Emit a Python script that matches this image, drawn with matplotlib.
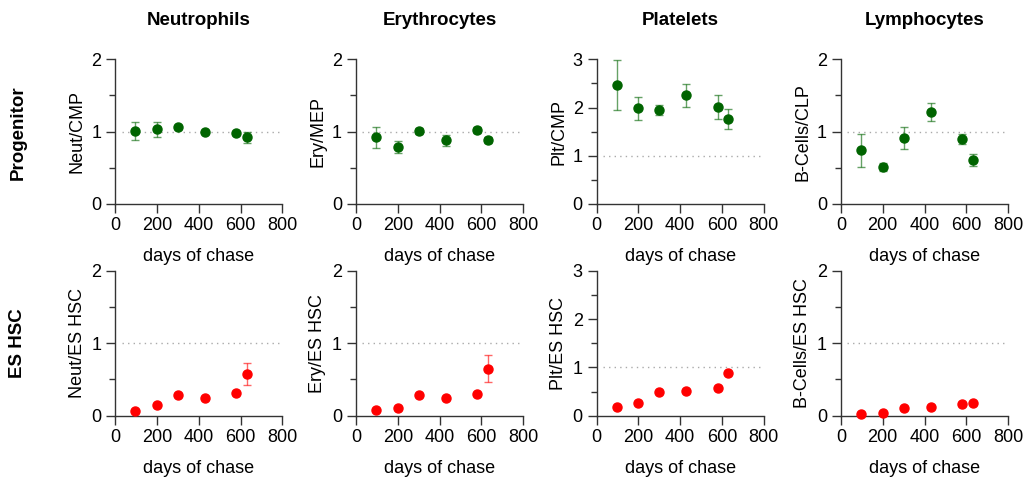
import matplotlib
matplotlib.use('Agg')
from matplotlib import pyplot as plt
from matplotlib.ticker import MultipleLocator

plt.rcParams['font.family'] = ['Liberation Sans', 'DejaVu Sans']

days = [95, 200, 300, 430, 580, 630]

cell_types = ['Neutrophils', 'Erythrocytes', 'Platelets', 'Lymphocytes']
row_names = ['Progenitor', 'ES HSC']

# progenitor-normalised ratios (mean, sem)
neut_cmp = [1.01, 1.03, 1.06, 0.99, 0.98, 0.92]
neut_cmp_err = [0.13, 0.10, 0.02, 0.01, 0.02, 0.07]
ery_mep = [0.92, 0.79, 1.01, 0.88, 1.02, 0.88]
ery_mep_err = [0.14, 0.085, 0.04, 0.08, 0.04, 0.04]
plt_cmp = [2.47, 1.98, 1.95, 2.25, 2.02, 1.76]
plt_cmp_err = [0.52, 0.24, 0.10, 0.23, 0.25, 0.21]
bcell_clp = [0.74, 0.51, 0.91, 1.27, 0.90, 0.61]
bcell_clp_err = [0.23, 0.05, 0.15, 0.12, 0.07, 0.08]

# ES HSC-normalised ratios
neut_hsc = [0.07, 0.15, 0.28, 0.24, 0.31, 0.57]
neut_hsc_err = [0.01, 0.01, 0.01, 0.01, 0.01, 0.15]
ery_hsc = [0.08, 0.11, 0.29, 0.24, 0.30, 0.65]
ery_hsc_err = [0.01, 0.01, 0.01, 0.01, 0.01, 0.19]
plt_hsc = [0.17, 0.27, 0.48, 0.52, 0.58, 0.88]
plt_hsc_err = [0.01, 0.01, 0.01, 0.01, 0.01, 0.01]
bcell_hsc = [0.02, 0.04, 0.10, 0.12, 0.16, 0.18]
bcell_hsc_err = [0.005, 0.005, 0.005, 0.005, 0.005, 0.005]

top_labels = ['Neut/CMP', 'Ery/MEP', 'Plt/CMP', 'B-Cells/CLP']
bottom_labels = ['Neut/ES HSC', 'Ery/ES HSC', 'Plt/ES HSC', 'B-Cells/ES HSC']
ymax = [2, 2, 3, 2]

top_data = [(neut_cmp, neut_cmp_err), (ery_mep, ery_mep_err),
            (plt_cmp, plt_cmp_err), (bcell_clp, bcell_clp_err)]
bottom_data = [(neut_hsc, neut_hsc_err), (ery_hsc, ery_hsc_err),
               (plt_hsc, plt_hsc_err), (bcell_hsc, bcell_hsc_err)]

W, H = 1027, 480
fig = plt.figure(figsize=(W / 100, H / 100), dpi=100)

lefts = [115.3, 356, 596.7, 841]
row_y = [(59.3, 204), (270.7, 415.7)]  # top, bottom in pixels
ax_w = 167

green = '#006400'
red = '#ff0000'

for r, (rows, labels, col) in enumerate([(top_data, top_labels, green),
                                          (bottom_data, bottom_labels, red)]):
    y_top, y_bot = row_y[r]
    for c in range(4):
        ax = fig.add_axes([lefts[c] / W, 1 - y_bot / H, ax_w / W, (y_bot - y_top) / H])
        vals, errs = rows[c]
        ax.axhline(1, xmin=30 / 800, xmax=790 / 800, color='#aaaaaa',
                   linestyle=(0, (1, 3)), linewidth=1, zorder=1)
        eb = ax.errorbar(days, vals, yerr=errs, fmt='o', color=col, ms=6.5,
                         ecolor=col, elinewidth=1, capsize=3, capthick=1,
                         zorder=3, clip_on=False)
        for art in eb[1] + eb[2]:
            art.set_alpha(0.6)
        ax.set_xlim(0, 800)
        ax.set_ylim(0, ymax[c])
        ax.xaxis.set_major_locator(MultipleLocator(200))
        ax.yaxis.set_major_locator(MultipleLocator(1))
        ax.yaxis.set_minor_locator(MultipleLocator(0.5))
        for s in ['top', 'right']:
            ax.spines[s].set_visible(False)
        for s in ['left', 'bottom']:
            ax.spines[s].set_color('#333333')
            ax.spines[s].set_linewidth(1)
        ax.tick_params(which='both', direction='out', color='#333333', width=1,
                       labelsize=13)
        ax.tick_params(axis='x', pad=3)
        ax.tick_params(which='major', length=6.5)
        ax.tick_params(which='minor', length=4)
        ax.set_xlabel('days of chase', fontsize=13, labelpad=10)
        ax.set_ylabel(labels[c], fontsize=13, labelpad=4)
        if r == 0:
            ax.set_title(cell_types[c], fontsize=13.5, fontweight='bold', pad=25)

fig.text(18 / W, 1 - 133 / H, row_names[0], rotation=90, fontsize=13.5,
         fontweight='bold', ha='center', va='center')
fig.text(18 / W, 1 - 343 / H, row_names[1], rotation=90, fontsize=13.5,
         fontweight='bold', ha='center', va='center')

fig.savefig('out.png', dpi=100)
